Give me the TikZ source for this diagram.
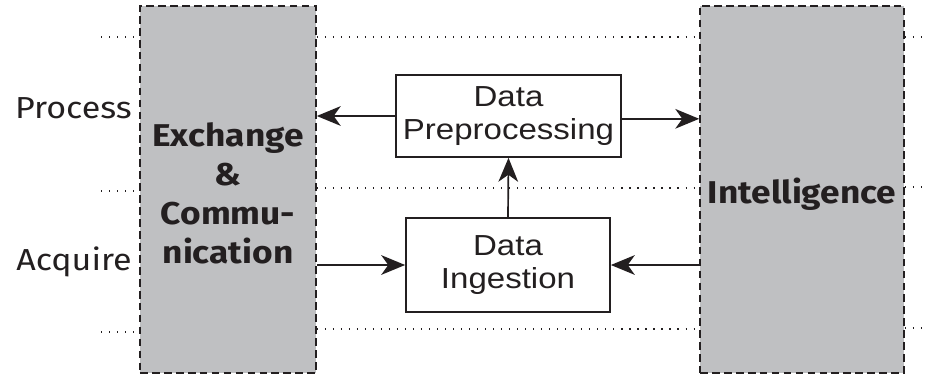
\documentclass[tikz,border=0pt]{standalone}
\usepackage{fontspec}
\setmainfont{Liberation Sans}
\newfontfamily\lblfont[FakeStretch=1.12]{Fira Sans}
\newfontfamily\boxfont[FakeStretch=1.14]{Liberation Sans}
\usetikzlibrary{arrows.meta}
\definecolor{ink}{HTML}{231F20}
\definecolor{panel}{HTML}{BFC0C2}
\begin{document}
\begin{tikzpicture}[x=0.025cm,y=-0.025cm,
  panelbox/.style={draw=ink,fill=panel,line width=1.1pt,dash pattern=on 5.5pt off 3pt,
    minimum height=9.175cm,inner sep=0pt},
  stagebox/.style={draw=ink,fill=white,line width=1.2pt,inner sep=0pt,
    font=\boxfont\fontsize{20.6}{24}\selectfont,align=center,text=ink},
  panellabel/.style={font=\lblfont\bfseries\fontsize{22.4}{27.8}\selectfont,align=center,text=ink},
  rowlabel/.style={font=\lblfont\fontsize{21.6}{26}\selectfont,text=ink,anchor=east,inner sep=0pt},
  guide/.style={draw=ink,line width=0.8pt,dash pattern=on 0.8pt off 4.9pt},
  flow/.style={draw=ink,line width=1.2pt,-{Stealth[length=17pt,width=14pt,inset=5pt]}}]
\useasboundingbox (0,0) rectangle (928,376);

% side panels
\node[panelbox,minimum width=4.4cm] (exch) at (228,189.5) {};
\node[panelbox,minimum width=5.1cm] (intel) at (802,189.5) {};

% dotted row separators
\foreach \yy/\yc/\yr [count=\i] in {37/37/37, 191/188/187, 332/329/328}{
  \coordinate (gl\i) at (101,\yy);
  \draw[guide] (gl\i) -- (exch.west |- gl\i);
  \coordinate (gm\i) at (exch.east |- 0,\yc);
  \draw[guide] (gm\i) -- (intel.west |- gm\i);
  \coordinate (gr\i) at (928,\yr);
  \draw[guide] (intel.east |- gr\i) -- (gr\i);
}

% panel texts
\node[panellabel] (exchtext) at (228,193) {Exchange\\\&\\Commu-\\nication};
\node[panellabel] (inteltext) at (802,194) {Intelligence};

% row labels
\node[rowlabel] (process) at (132,108) {Process};
\node[rowlabel] (acquire) at (132,262) {Acquire};

% processing stages
\node[stagebox,minimum width=5.625cm,minimum height=2.05cm] (pre) at (508.5,116) {Data\\Preprocessing};
\node[stagebox,minimum width=5.1cm,minimum height=2.35cm] (ing) at (508,265) {Data\\Ingestion};

% flows
\draw[flow] (pre.west) -- (exch.east |- pre.west);
\coordinate (preout) at ([yshift=-2pt]pre.east);
\draw[flow] (preout) -- (intel.west |- preout);
\draw[flow] (ing.north) -- (pre.south);
\draw[flow] (exch.east |- ing.west) -- (ing.west);
\draw[flow] (intel.west |- ing.east) -- (ing.east);
\end{tikzpicture}
\end{document}
